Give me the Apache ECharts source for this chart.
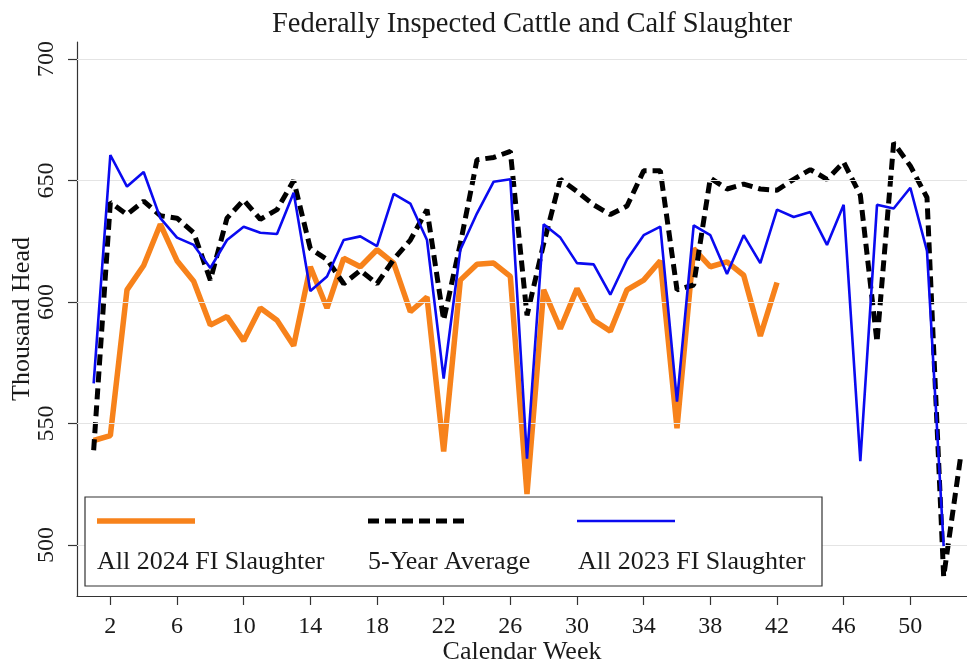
<!DOCTYPE html>
<html><head><meta charset="utf-8">
<script src="https://cdn.jsdelivr.net/npm/echarts@6/dist/echarts.min.js"></script>
<style>html,body{margin:0;padding:0;background:#fff}#c{width:967px;height:664px}</style>
</head><body><div id="c"></div>
<script>
// Calendar-week tick labels and y tick values
const xTicks = [2, 6, 10, 14, 18, 22, 26, 30, 34, 38, 42, 46, 50];
const yTicks = [500, 550, 600, 650, 700];

// All 2024 FI Slaughter (weeks 1..42), thousand head
const fi2024 = [543, 545, 605, 615, 632, 617, 608.5, 590.5, 594, 584, 597.5, 592.5, 582, 614.5,
  597.5, 618, 614.5, 621.5, 616, 596, 602, 538.5, 609, 615.5, 616, 610.5, 521, 605, 589, 605.5,
  592.5, 588, 605, 609, 617, 548, 622, 614.5, 616.5, 611, 586, 608];

// 5-Year Average (weeks 1..53)
const avg5 = [539, 641, 636, 641.5, 635.5, 634.5, 628.5, 609, 634.5, 642, 634, 638, 650, 622,
  617.5, 607.5, 613, 607.5, 617.5, 625.5, 638, 592.5, 624, 658.5, 659.5, 662, 594.5, 624, 650.5,
  645.5, 640, 636, 639.5, 654, 654, 605, 607, 651, 646.5, 648.5, 646.5, 646, 650.5, 654.5, 650.5,
  657.5, 644, 583.5, 665.5, 656, 643, 487, 535.5];

// All 2023 FI Slaughter (weeks 1..52)
const fi2023 = [566.5, 660.5, 647.5, 653.5, 634.5, 626.5, 623.5, 614, 625.5, 631, 628.5, 628, 645,
  604.5, 610.5, 625.5, 627, 623, 644.5, 640.5, 625.5, 568.5, 621.5, 636.5, 649.5, 650.5, 535.5, 632,
  626.5, 616, 615.5, 603, 617.5, 627.5, 631, 559, 631.5, 627.5, 611.5, 627.5, 616, 638, 635, 637,
  623.5, 640, 534.5, 640, 638.5, 647, 621, 499.5];

const seriesNames = ['All 2024 FI Slaughter', '5-Year Average', 'All 2023 FI Slaughter'];
const toPts = arr => arr.map((v, i) => [i + 1, v]);

const FONT = 'Liberation Serif';
const ORANGE = '#F7821B', BLUE = '#0A0AF0', BLACK = '#000000';

const chart = echarts.init(document.getElementById('c'), null, {renderer: 'canvas'});
chart.setOption({
  animation: false,
  backgroundColor: '#ffffff',
  title: {
    text: 'Federally Inspected Cattle and Calf Slaughter',
    left: 527, top: 5, textAlign: 'center',
    textStyle: {fontFamily: FONT, fontSize: 28.5, fontWeight: 'normal', color: '#1a1a1a'}
  },
  grid: {left: 77, right: 0, top: 42, bottom: 68, containLabel: false, outerBoundsMode: 'none'},
  xAxis: {
    type: 'value', min: 0, max: 53.4,
    name: 'Calendar Week', nameLocation: 'middle', nameGap: 43, nameMoveOverlap: false,
    nameTextStyle: {fontFamily: FONT, fontSize: 26, color: '#1a1a1a'},
    axisLine: {show: true, onZero: false, lineStyle: {color: '#333', width: 1.2}},
    axisTick: {show: true, length: 9, customValues: xTicks, lineStyle: {color: '#333', width: 1.2}},
    axisLabel: {customValues: xTicks, fontFamily: FONT, fontSize: 24, color: '#1a1a1a', margin: 19},
    splitLine: {show: false}
  },
  yAxis: {
    type: 'value', min: 479, max: 707,
    name: 'Thousand Head', nameLocation: 'middle', nameGap: 42, nameRotate: 90, nameMoveOverlap: false,
    nameTextStyle: {fontFamily: FONT, fontSize: 26, color: '#1a1a1a'},
    axisLine: {show: true, onZero: false, lineStyle: {color: '#333', width: 1.2}},
    axisTick: {show: true, length: 9, customValues: yTicks, lineStyle: {color: '#333', width: 1.2}},
    axisLabel: {customValues: yTicks, rotate: 90, fontFamily: FONT, fontSize: 24, color: '#1a1a1a', margin: 18},
    splitLine: {show: false}
  },
  series: [
    {
      type: 'line', data: [], z: 1, silent: true,
      markLine: {
        silent: true, symbol: 'none', label: {show: false}, animation: false,
        lineStyle: {color: '#e4e4e4', width: 1, type: 'solid'},
        data: yTicks.map(v => ({yAxis: v}))
      }
    },
    {name: seriesNames[0], type: 'line', data: toPts(fi2024), showSymbol: false, z: 3,
     lineStyle: {color: ORANGE, width: 5.5}, itemStyle: {color: ORANGE}},
    {name: seriesNames[1], type: 'line', data: toPts(avg5), showSymbol: false, z: 4,
     lineStyle: {color: BLACK, width: 5, type: [11, 6]}, itemStyle: {color: BLACK}},
    {name: seriesNames[2], type: 'line', data: toPts(fi2023), showSymbol: false, z: 5,
     lineStyle: {color: BLUE, width: 2.6}, itemStyle: {color: BLUE}}
  ],
  graphic: [
    {type: 'rect', z: 100, shape: {x: 85, y: 497, width: 737, height: 89},
     style: {fill: '#ffffff', stroke: '#333', lineWidth: 1.2}},
    {type: 'line', z: 101, shape: {x1: 97, y1: 521, x2: 195, y2: 521},
     style: {stroke: ORANGE, lineWidth: 5.5}},
    {type: 'line', z: 101, shape: {x1: 368, y1: 521, x2: 465, y2: 521},
     style: {stroke: BLACK, lineWidth: 5, lineDash: [11, 6]}},
    {type: 'line', z: 101, shape: {x1: 577, y1: 521, x2: 675, y2: 521},
     style: {stroke: BLUE, lineWidth: 2.6}},
    {type: 'text', z: 101, x: 97, y: 562,
     style: {text: seriesNames[0], fontFamily: FONT, fontSize: 26, fill: '#1a1a1a', verticalAlign: 'middle'}},
    {type: 'text', z: 101, x: 368, y: 562,
     style: {text: seriesNames[1], fontFamily: FONT, fontSize: 26, fill: '#1a1a1a', verticalAlign: 'middle'}},
    {type: 'text', z: 101, x: 578, y: 562,
     style: {text: seriesNames[2], fontFamily: FONT, fontSize: 26, fill: '#1a1a1a', verticalAlign: 'middle'}}
  ]
});
</script></body></html>
